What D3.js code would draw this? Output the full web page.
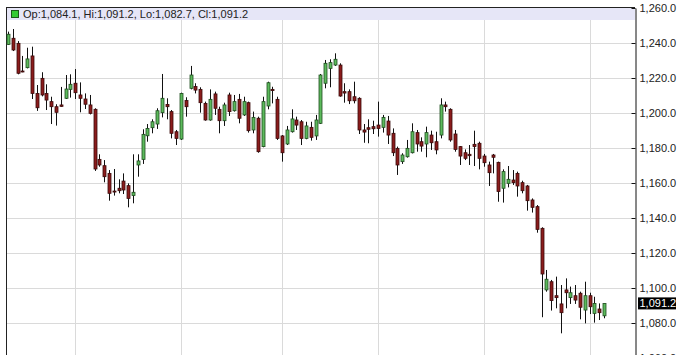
<!DOCTYPE html>
<html>
<head>
<meta charset="utf-8">
<script src="https://cdn.jsdelivr.net/npm/d3@7"></script>
<style>
  body { margin: 0; background: #fff; }
  svg { display: block; font-family: "Liberation Sans", Arial, sans-serif; }
</style>
</head>
<body>
<svg width="683" height="355"></svg>
<script>
// daily candles (oldest first)
const opens = [
  1239.2, 1242.7, 1239.8, 1224.0, 1225.9, 1232.6, 1211.2, 1219.8, 1211.2, 1206.5,
  1203.6, 1204.6, 1208.4, 1213.5, 1217.0, 1210.3, 1208.0, 1204.6, 1202.1, 1173.5,
  1169.9, 1165.5, 1155.4, 1157.0, 1161.1, 1158.5, 1152.8, 1170.3, 1173.5, 1187.0,
  1191.6, 1193.7, 1200.2, 1204.9, 1200.8, 1189.3, 1185.1, 1207.1, 1214.1, 1215.1,
  1213.5, 1205.5, 1196.0, 1210.9, 1202.1, 1195.6, 1210.3, 1201.3, 1207.8, 1198.9,
  1205.9, 1190.3, 1197.0, 1180.8, 1204.0, 1213.5, 1207.8, 1186.9, 1182.3, 1189.3,
  1196.0, 1195.0, 1185.5, 1191.8, 1186.9, 1194.1, 1217.0, 1225.5, 1227.4, 1227.4,
  1212.2, 1212.2, 1209.3, 1208.4, 1190.3, 1191.6, 1192.2, 1193.1, 1191.8, 1195.4,
  1188.4, 1179.8, 1172.2, 1175.0, 1177.3, 1188.8, 1183.6, 1182.3, 1187.4, 1183.6,
  1187.4, 1204.6, 1202.1, 1188.0, 1180.8, 1177.3, 1176.4, 1182.1, 1182.7, 1175.4,
  1170.3, 1176.0, 1171.8, 1157.0, 1159.8, 1161.7, 1165.5, 1160.2, 1158.3, 1150.3,
  1146.5, 1134.1, 1098.9, 1103.6, 1095.6, 1090.9, 1098.9, 1094.5, 1095.6, 1097.0,
  1087.4, 1095.6, 1085.5, 1088.0, 1084.1
];
const highs = [
  1246.5, 1248.0, 1241.1, 1232.6, 1237.3, 1237.9, 1216.0, 1223.3, 1216.4, 1209.3,
  1205.0, 1214.9, 1221.7, 1222.1, 1225.1, 1217.5, 1211.2, 1210.3, 1202.7, 1176.4,
  1173.1, 1167.4, 1168.0, 1162.1, 1165.5, 1159.8, 1176.4, 1176.4, 1190.7, 1193.7,
  1196.4, 1202.7, 1222.3, 1208.4, 1201.7, 1190.3, 1211.6, 1209.0, 1226.9, 1217.0,
  1214.7, 1206.5, 1213.5, 1212.2, 1203.6, 1205.9, 1211.6, 1210.3, 1210.9, 1209.3,
  1206.5, 1200.8, 1197.9, 1209.3, 1217.9, 1215.0, 1209.3, 1187.4, 1192.6, 1202.1,
  1197.9, 1196.0, 1195.0, 1195.0, 1198.9, 1222.3, 1230.3, 1230.7, 1234.1, 1228.4,
  1217.0, 1213.5, 1217.9, 1209.0, 1193.7, 1196.4, 1195.6, 1206.5, 1198.9, 1198.3,
  1191.2, 1180.8, 1177.0, 1184.6, 1194.1, 1190.3, 1186.1, 1192.2, 1189.9, 1189.3,
  1208.4, 1206.5, 1202.7, 1190.3, 1181.1, 1179.2, 1181.7, 1189.9, 1183.6, 1176.6,
  1172.2, 1176.6, 1172.2, 1167.8, 1169.7, 1167.4, 1166.5, 1161.3, 1158.9, 1151.2,
  1147.4, 1134.7, 1110.3, 1104.6, 1106.5, 1101.7, 1105.5, 1100.8, 1101.7, 1097.9,
  1103.6, 1097.3, 1095.0, 1091.2, 1091.2
];
const lows = [
  1238.9, 1235.4, 1222.1, 1223.3, 1225.5, 1208.0, 1201.2, 1209.5, 1201.7, 1193.7,
  1192.8, 1203.6, 1208.0, 1208.8, 1208.0, 1200.4, 1202.3, 1199.2, 1166.9, 1169.3,
  1160.4, 1149.9, 1152.8, 1154.1, 1153.7, 1146.1, 1148.4, 1163.6, 1170.9, 1183.6,
  1188.4, 1190.9, 1197.5, 1196.4, 1185.5, 1181.7, 1184.6, 1197.9, 1213.5, 1211.2,
  1200.2, 1195.6, 1195.6, 1198.9, 1188.4, 1192.6, 1198.3, 1200.8, 1194.1, 1198.3,
  1188.8, 1188.4, 1177.3, 1180.4, 1202.1, 1205.5, 1184.6, 1172.2, 1181.7, 1188.8,
  1190.3, 1181.7, 1185.0, 1184.2, 1184.6, 1193.7, 1214.1, 1214.7, 1226.9, 1209.3,
  1205.9, 1205.1, 1205.5, 1188.0, 1183.0, 1182.7, 1188.0, 1186.5, 1188.8, 1182.3,
  1175.4, 1164.6, 1170.9, 1174.5, 1176.9, 1177.9, 1177.9, 1174.7, 1178.9, 1176.4,
  1185.5, 1200.8, 1183.6, 1177.9, 1170.3, 1173.1, 1170.3, 1169.7, 1167.8, 1169.3,
  1158.3, 1165.5, 1149.3, 1148.8, 1157.5, 1158.9, 1152.2, 1154.1, 1144.2, 1143.1,
  1131.6, 1083.3, 1097.9, 1087.1, 1088.4, 1074.1, 1088.4, 1090.9, 1090.9, 1082.1,
  1079.8, 1085.1, 1080.2, 1081.7, 1082.7
];
const closes = [
  1245.0, 1236.0, 1222.7, 1223.5, 1230.9, 1211.2, 1203.0, 1210.3, 1207.4, 1203.6,
  1200.4, 1203.8, 1213.7, 1216.4, 1211.6, 1208.4, 1205.0, 1199.8, 1168.0, 1170.3,
  1163.6, 1154.1, 1155.0, 1155.6, 1156.0, 1151.2, 1154.7, 1172.6, 1187.8, 1191.2,
  1195.0, 1201.3, 1208.4, 1203.6, 1188.4, 1185.5, 1211.2, 1203.6, 1221.7, 1213.1,
  1205.9, 1196.0, 1207.8, 1202.7, 1195.6, 1204.6, 1200.8, 1206.5, 1197.0, 1206.5,
  1189.9, 1197.5, 1177.9, 1206.5, 1217.3, 1212.8, 1185.5, 1177.3, 1190.3, 1196.6,
  1193.1, 1185.5, 1192.6, 1186.1, 1196.0, 1221.7, 1228.4, 1228.8, 1230.7, 1209.7,
  1211.4, 1207.0, 1207.0, 1190.3, 1189.1, 1190.7, 1191.0, 1191.2, 1197.5, 1187.4,
  1177.3, 1170.3, 1176.0, 1179.8, 1189.3, 1182.3, 1181.1, 1188.8, 1183.0, 1178.9,
  1204.6, 1203.6, 1184.6, 1179.2, 1175.4, 1174.1, 1175.6, 1180.8, 1174.1, 1171.6,
  1165.9, 1174.7, 1155.1, 1166.5, 1162.1, 1160.2, 1158.3, 1155.6, 1149.9, 1146.1,
  1133.5, 1108.0, 1105.0, 1092.8, 1094.5, 1085.9, 1097.3, 1097.3, 1093.1, 1089.0,
  1095.6, 1089.3, 1091.2, 1085.9, 1091.2
];
// candles where a new month starts (vertical grid lines)
const monthStarts = [14, 36, 57, 77, 99, 121];
const yTicks = [1060, 1080, 1100, 1120, 1140, 1160, 1180, 1200, 1220, 1240, 1260];

const svg = d3.select("svg");
const plotLeft = 6, plotRight = 635, plotTop = 7;

const x = d3.scalePoint().domain(d3.range(opens.length)).range([8, 604]);
const y = d3.scaleLinear().domain([1060, 1260]).range([358, 8]);
const fmt = d3.format(",.1f");

// grid
svg.append("g").selectAll("line").data(yTicks).join("line")
    .attr("x1", plotLeft).attr("x2", plotRight)
    .attr("y1", d => Math.round(y(d)) + 0.5).attr("y2", d => Math.round(y(d)) + 0.5)
    .attr("stroke", "#dadada");
svg.append("g").selectAll("line").data(monthStarts).join("line")
    .attr("x1", d => Math.round(x(d)) + 0.5).attr("x2", d => Math.round(x(d)) + 0.5)
    .attr("y1", plotTop).attr("y2", 355)
    .attr("stroke", "#dadada");

// header band with the last candle's values
svg.append("rect").attr("x", plotLeft).attr("y", plotTop).attr("width", plotRight - plotLeft).attr("height", 13)
    .attr("fill", "#e6e6f7");
svg.append("line").attr("x1", plotLeft).attr("x2", plotRight).attr("y1", plotTop + 0.5).attr("y2", plotTop + 0.5)
    .attr("stroke", "#222");
svg.append("line").attr("x1", plotLeft + 0.5).attr("x2", plotLeft + 0.5).attr("y1", plotTop).attr("y2", 355)
    .attr("stroke", "#222");

const last = opens.length - 1;
svg.append("rect").attr("x", 11.5).attr("y", 10.5).attr("width", 7).attr("height", 7)
    .attr("fill", "#33cc33").attr("stroke", "#1a5a1a");
svg.append("text").attr("x", 23).attr("y", 18).attr("font-size", 11).attr("fill", "#222")
    .text(`Op:${fmt(opens[last])}, Hi:${fmt(highs[last])}, Lo:${fmt(lows[last])}, Cl:${fmt(closes[last])}`);

// candles
const candles = svg.append("g").selectAll("g").data(opens).join("g")
    .attr("transform", (d, i) => `translate(${Math.round(x(i))},0)`);

candles.append("line")
    .attr("x1", 0.5).attr("x2", 0.5)
    .attr("y1", (d, i) => y(highs[i])).attr("y2", (d, i) => y(lows[i]))
    .attr("stroke", "#111");

candles.append("rect")
    .attr("x", -1)
    .attr("width", 3)
    .attr("y", (d, i) => y(Math.max(opens[i], closes[i])))
    .attr("height", (d, i) => Math.max(1, Math.abs(y(opens[i]) - y(closes[i]))))
    .attr("fill", (d, i) => closes[i] >= opens[i] ? "#5cba5c" : "#8b1c1c")
    .attr("stroke", (d, i) => closes[i] >= opens[i] ? "#1f4d1f" : "#3a0a0a")
    .attr("stroke-width", 0.8);

// right axis
const axis = svg.append("g")
    .attr("transform", `translate(${plotRight + 0.5},0)`)
    .call(d3.axisRight(y).tickValues(yTicks).tickFormat(fmt).tickSize(0).tickPadding(4));
axis.select(".domain").attr("stroke", "#111");
axis.selectAll("text").attr("font-size", 11).attr("fill", "#222")
    .attr("font-family", "Liberation Sans, Arial, sans-serif");
axis.selectAll(".tick").append("line").attr("x1", -4).attr("x2", 0).attr("stroke", "#111");

// last price marker
const lastY = y(closes[last]);
svg.append("rect").attr("x", 638).attr("y", lastY - 6).attr("width", 38).attr("height", 12)
    .attr("fill", "#000");
svg.append("text").attr("x", 639.5).attr("y", lastY + 4).attr("font-size", 11).attr("fill", "#fff")
    .text(fmt(closes[last]));
</script>
</body>
</html>
